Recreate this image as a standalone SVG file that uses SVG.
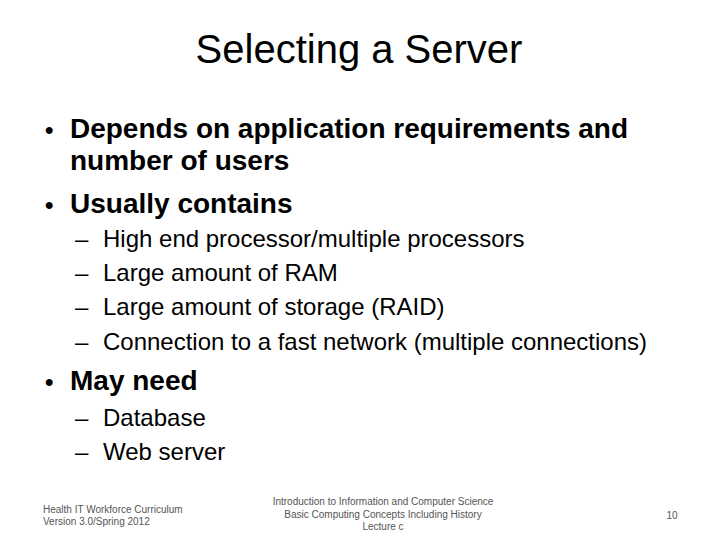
<svg xmlns="http://www.w3.org/2000/svg" width="720" height="540" viewBox="0 0 720 540">
<style>
text{font-family:"Liberation Sans",Arial,sans-serif;fill:#000}
.b{font-size:24px;font-weight:bold}
.s{font-size:24px}
.f{font-size:10px;fill:#555}
</style>
<rect width="720" height="540" fill="#fff"/>
<text x="359" y="63" font-size="40" text-anchor="middle">Selecting a Server</text>
<g>
<text x="45" y="138" class="b">•</text><text x="70" y="138" class="b" textLength="558" lengthAdjust="spacingAndGlyphs" style="font-size:28px">Depends on application requirements and</text>
<text x="70" y="170" class="b" style="font-size:28px">number of users</text>
<text x="45" y="213" class="b">•</text><text x="70" y="213" class="b" style="font-size:28px">Usually contains</text>
<text x="45" y="390" class="b">•</text><text x="70" y="390" class="b" style="font-size:28px">May need</text>
</g>
<text x="75" y="247" class="s">–</text><text x="103" y="247" class="s">High end processor/multiple processors</text>
<text x="75" y="281" class="s">–</text><text x="103" y="281" class="s">Large amount of RAM</text>
<text x="75" y="315" class="s">–</text><text x="103" y="315" class="s">Large amount of storage (RAID)</text>
<text x="75" y="350" class="s">–</text><text x="103" y="350" class="s" textLength="544" lengthAdjust="spacingAndGlyphs">Connection to a fast network (multiple connections)</text>
<text x="75" y="426" class="s">–</text><text x="103" y="426" class="s">Database</text>
<text x="75" y="460" class="s">–</text><text x="103" y="460" class="s">Web server</text>
<text x="43" y="513" class="f">Health IT Workforce Curriculum</text>
<text x="43" y="525" class="f">Version 3.0/Spring 2012</text>
<text x="383" y="505" class="f" text-anchor="middle">Introduction to Information and Computer Science</text>
<text x="383" y="518" class="f" text-anchor="middle">Basic Computing Concepts Including History</text>
<text x="383" y="530" class="f" text-anchor="middle">Lecture c</text>
<text x="672" y="519" class="f" text-anchor="middle">10</text>
</svg>
